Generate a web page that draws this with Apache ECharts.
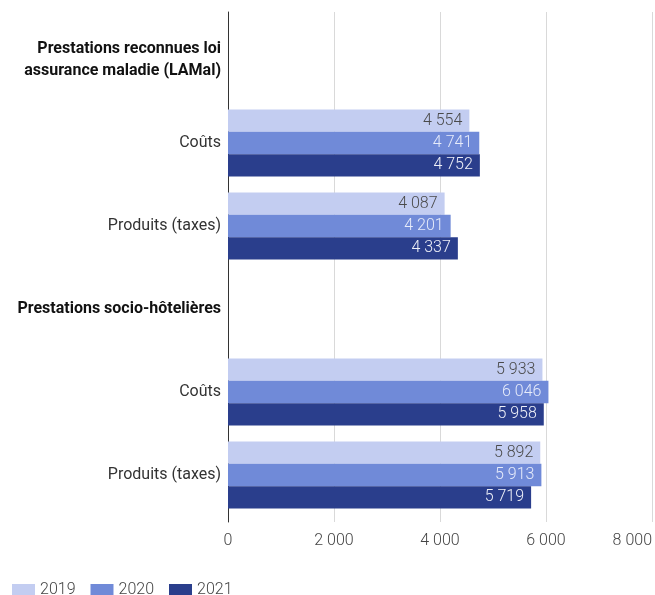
<!DOCTYPE html>
<html>
<head>
<meta charset="utf-8">
<script src="https://cdn.jsdelivr.net/npm/echarts@6/dist/echarts.min.js"></script>
<style>
  html, body { margin: 0; padding: 0; background: #fff; }
  #chart { width: 655px; height: 595px; }
</style>
</head>
<body>
<div id="chart"></div>
<script>
// categories, top to bottom (headers have no bars); trailing spaces keep names unique
const categories = [
  'Prestations reconnues loi\nassurance maladie (LAMal)',
  'Coûts',
  'Produits (taxes)',
  'Prestations socio-hôtelières',
  'Coûts ',
  'Produits (taxes) '
]
const headers = [0, 3]

const years = ['2019', '2020', '2021']
const values2019 = [null, 4554, 4087, null, 5933, 5892]
const values2020 = [null, 4741, 4201, null, 6046, 5913]
const values2021 = [null, 4752, 4337, null, 5958, 5719]

const xTicks = [0, 2000, 4000, 6000, 8000]

const colors = ['#c3cdf1', '#708ad8', '#2a3e8c']
const labelColors = ['#4a4a4a', '#e6ebfa', '#eef0f8']

const fmt = (v) => String(Math.round(v)).replace(/\B(?=(\d{3})+(?!\d))/g, ' ')

const chart = echarts.init(document.getElementById('chart'))

const makeSeries = (name, data, i) => ({
  name,
  type: 'bar',
  xAxisIndex: 1,
  yAxisIndex: 1,
  data,
  barGap: '0%',
  barCategoryGap: '19%',
  itemStyle: { color: colors[i] },
  label: {
    show: true,
    position: 'insideRight',
    distance: 7,
    color: labelColors[i],
    fontFamily: 'Roboto',
    fontWeight: 300,
    fontSize: 16,
    formatter: (p) => fmt(p.value)
  }
})

chart.setOption({
  animation: false,
  textStyle: { fontFamily: 'Roboto' },
  legend: {
    data: years,
    left: 12,
    top: 582,
    padding: 0,
    itemWidth: 23,
    itemHeight: 12,
    itemGap: 15,
    icon: 'rect',
    textStyle: { color: '#444', fontSize: 16, fontWeight: 300, fontFamily: 'Roboto' }
  },
  grid: [
    // frame grid: gridlines, axis line, tick labels
    { left: 228, right: 3, top: 12, height: 510, outerBoundsMode: 'none' },
    // bar grid
    { left: 228, right: 3, top: 18.5, height: 498, outerBoundsMode: 'none' }
  ],
  xAxis: [
    {
      type: 'value',
      gridIndex: 0,
      min: xTicks[0],
      max: xTicks[xTicks.length - 1],
      interval: 2000,
      axisLine: { show: false },
      axisTick: { show: false },
      axisLabel: {
        color: '#444',
        fontSize: 16,
        fontWeight: 300,
        margin: 11,
        alignMaxLabel: 'right',
        formatter: (v) => fmt(v)
      },
      splitLine: { lineStyle: { color: '#d9d9d9', width: 1 } }
    },
    {
      type: 'value',
      gridIndex: 1,
      min: 0,
      max: 8000,
      show: false
    }
  ],
  yAxis: [
    {
      type: 'value',
      gridIndex: 0,
      min: 0,
      max: 1,
      axisLine: { show: true, lineStyle: { color: '#333', width: 1 } },
      axisTick: { show: false },
      axisLabel: { show: false },
      splitLine: { show: false }
    },
    {
      type: 'category',
      gridIndex: 1,
      inverse: true,
      data: categories,
      axisLine: { show: false },
      axisTick: { show: false },
      axisLabel: {
        margin: 7,
        color: '#333',
        fontSize: 16,
        formatter: (v, i) => headers.includes(i) ? '{h|' + v.replace('\n', '}\n{h|') + '}' : v.trim(),
        rich: {
          h: { fontWeight: 'bold', color: '#111', fontSize: 16, lineHeight: 22, align: 'right' }
        }
      }
    }
  ],
  series: [
    makeSeries(years[0], values2019, 0),
    makeSeries(years[1], values2020, 1),
    makeSeries(years[2], values2021, 2)
  ]
})
</script>
</body>
</html>
